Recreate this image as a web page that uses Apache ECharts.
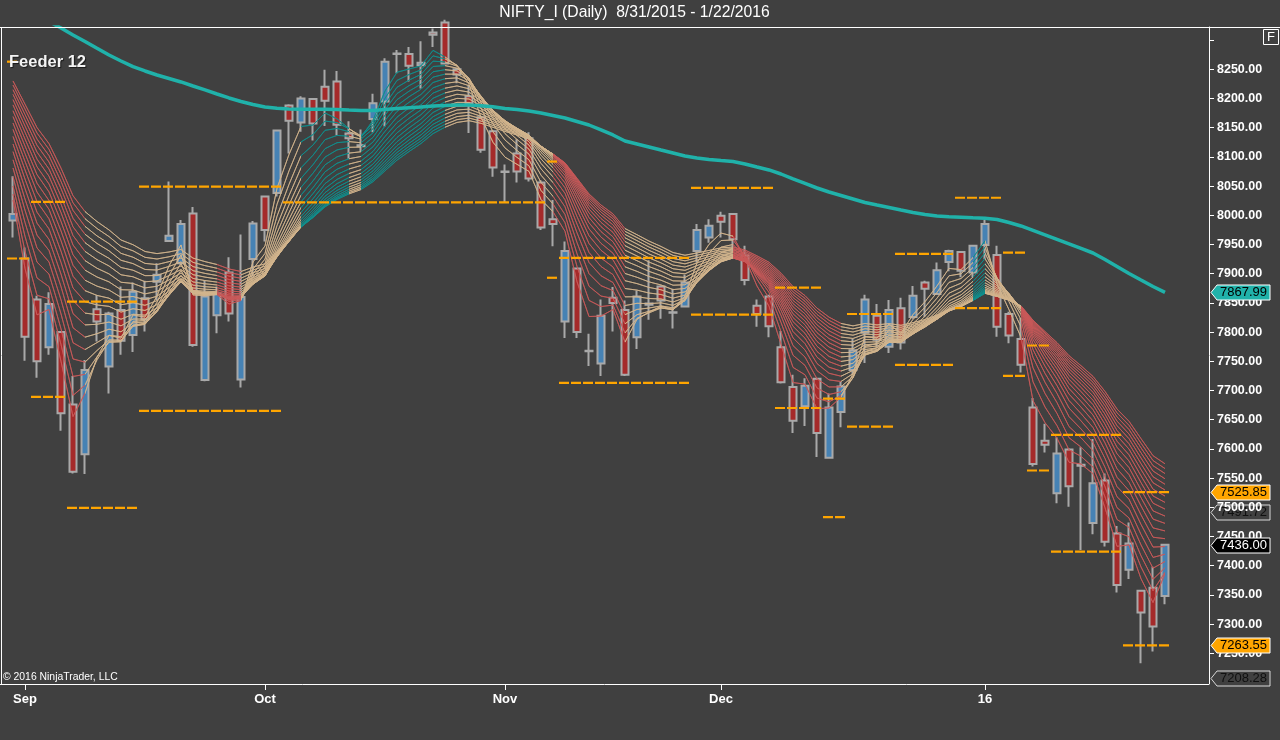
<!DOCTYPE html>
<html><head><meta charset="utf-8">
<script src="https://cdn.jsdelivr.net/npm/echarts@6.0.0/dist/echarts.min.js"></script>
<style>html,body{margin:0;padding:0;background:#404040;}#c{width:1280px;height:740px;}</style>
</head><body><div id="c"></div><script>
// ---- data ----
const dates = ['2015-08-31',
'2015-09-01','2015-09-02','2015-09-03','2015-09-04','2015-09-07','2015-09-08','2015-09-09','2015-09-10','2015-09-11','2015-09-14','2015-09-15','2015-09-16','2015-09-18','2015-09-21','2015-09-22','2015-09-23','2015-09-24','2015-09-28','2015-09-29','2015-09-30',
'2015-10-01','2015-10-05','2015-10-06','2015-10-07','2015-10-08','2015-10-09','2015-10-12','2015-10-13','2015-10-14','2015-10-15','2015-10-16','2015-10-19','2015-10-20','2015-10-21','2015-10-23','2015-10-26','2015-10-27','2015-10-28','2015-10-29','2015-10-30',
'2015-11-02','2015-11-03','2015-11-04','2015-11-05','2015-11-06','2015-11-09','2015-11-10','2015-11-13','2015-11-16','2015-11-17','2015-11-18','2015-11-19','2015-11-20','2015-11-23','2015-11-24','2015-11-26','2015-11-27','2015-11-30',
'2015-12-01','2015-12-02','2015-12-03','2015-12-04','2015-12-07','2015-12-08','2015-12-09','2015-12-10','2015-12-11','2015-12-14','2015-12-15','2015-12-16','2015-12-17','2015-12-18','2015-12-21','2015-12-22','2015-12-23','2015-12-24','2015-12-28','2015-12-29','2015-12-30','2015-12-31',
'2016-01-01','2016-01-04','2016-01-05','2016-01-06','2016-01-07','2016-01-08','2016-01-11','2016-01-12','2016-01-13','2016-01-14','2016-01-15','2016-01-18','2016-01-19','2016-01-20','2016-01-21','2016-01-22'];

const opens = [7991,7926,7856,7774,7800,7676,7591,7839,7741,7838,7795,7858,7886,7956,7918,8003,7718,7829,7902,7719,7925,
8032,8038,8188,8159,8199,8220,8229,8140,8120,8165,8195,8276,8276,8257,8313,8330,8250,8204,8168,8144,
8075,8106,8132,8056,7993,7818,7909,7768,7746,7859,7838,7791,7849,7878,7834,7844,7939,7962,
7999,8002,7931,7845,7861,7774,7706,7673,7720,7585,7663,7735,7799,7828,7775,7841,7826,7885,7865,7920,7937,7902,
7949,7932,7831,7788,7671,7614,7524,7599,7573,7473,7546,7455,7393,7357,7362,7348];
const highs = [8067,7945,7862,7868,7802,7725,7752,7863,7835,7878,7885,7888,7918,8058,7992,8014,7889,7878,7928,7967,7990,
8033,8146,8190,8204,8200,8249,8247,8161,8147,8208,8269,8283,8288,8298,8320,8335,8252,8223,8170,8146,
8087,8130,8142,8060,8026,7955,7910,7797,7856,7877,7854,7871,7923,7880,7874,7898,7985,7993,
8006,8004,7948,7856,7864,7802,7727,7721,7721,7695,7715,7788,7864,7848,7855,7859,7879,7888,7919,7941,7938,7949,
7992,7948,7835,7824,7687,7643,7620,7601,7603,7617,7558,7468,7474,7358,7398,7437];
const lows = [7962,7751,7722,7761,7631,7558,7557,7784,7695,7761,7766,7801,7855,7956,7915,7775,7716,7798,7818,7705,7895,
7955,8032,8106,8143,8128,8153,8137,8097,8109,8142,8152,8243,8229,8217,8288,8258,8226,8141,8107,8066,
8022,8056,8058,7975,7947,7790,7790,7742,7725,7801,7725,7771,7821,7823,7806,7842,7919,7953,
7962,7938,7880,7809,7791,7712,7627,7639,7586,7584,7637,7728,7747,7775,7764,7770,7823,7826,7865,7904,7894,7894,
7925,7792,7781,7731,7570,7594,7507,7501,7427,7454,7433,7354,7377,7233,7253,7334];
const closes = [8002,7792,7750,7848,7661,7561,7735,7818,7832,7785,7869,7822,7898,7965,7985,7778,7861,7866,7832,7860,7986,
7975,8145,8162,8200,8157,8196,8155,8132,8118,8192,8263,8277,8256,8261,8309,8260,8241,8192,8112,8082,
8074,8075,8063,7979,7985,7939,7800,7767,7828,7850,7727,7861,7847,7854,7833,7885,7975,7982,
7989,7959,7889,7831,7810,7714,7648,7708,7627,7671,7707,7769,7856,7787,7838,7782,7862,7874,7906,7939,7905,7948,
7985,7809,7794,7744,7574,7607,7592,7536,7571,7541,7441,7367,7438,7320,7296,7436];

// long teal moving average
const slowMA = [8365.2,8354.1,8343.0,8331.8,8320.7,8308.7,8297.6,8286.0,8274.5,8264.2,8254.5,8247.1,8240.2,8234.3,8228.3,8221.4,8214.6,8207.7,8200.9,8194.9,8189.7,
8185.4,8183.2,8182.0,8181.5,8181.5,8181.5,8181.2,8180.3,8179.5,8179.5,8181.2,8182.9,8184.2,8185.4,8187.2,8188.0,8188.9,8188.9,8187.5,8185.8,
8182.9,8181.2,8178.6,8175.2,8170.9,8166.6,8160.6,8154.6,8146.1,8137.5,8127.2,8122.1,8117.0,8111.8,8106.7,8101.5,8098.1,8095.6,
8093.8,8092.1,8087.9,8082.7,8077.6,8070.7,8062.2,8054.5,8046.7,8039.9,8033.9,8027.9,8021.9,8017.6,8013.4,8009.0,8004.8,8001.4,7998.8,7997.4,7996.6,7995.7,
7994.9,7992.8,7987.7,7981.7,7974.0,7966.3,7958.6,7950.9,7943.2,7935.4,7924.3,7912.4,7900.4,7889.2,7878.1,7867.99];

// Feeder ribbon: EMA periods (slowest first) and their starting values read at the first bar
const feederPeriods = [21,20,19,18,17,16,15,14,13,12,11,10,9,8,7,6,5,4,3];
const feederStart = [8230,8223,8215,8207,8198,8189,8179,8169,8158,8147,8135,8122,8109,8095,8081,8066,8050,8036,8026];
// ribbon colour state per bar run: r = bearish, t = neutral, g = bullish
const feederRuns = [[0,6,'r'],[7,17,'t'],[18,19,'r'],[20,24,'t'],[25,28,'g'],[29,29,'t'],[30,36,'g'],[37,45,'t'],[46,51,'r'],[52,60,'t'],[61,69,'r'],[70,80,'t'],[81,81,'g'],[82,84,'t'],[85,96,'r']];

// orange dashed levels: [first bar, last bar, price]
const levelStart = [0,0,2,2,5,5,11,11,23,45,45,46,46,57,57,64,64,68,68,70,70,74,74,79,79,83,83,85,85,87,87,93,93];
const levelEnd   = [0,1,4,4,10,10,22,22,44,45,45,56,56,63,63,67,67,69,69,73,73,78,78,82,82,84,84,86,86,92,92,96,96];
const levelPrice = [8263,7926,8023,7689,7852,7499,8049,7665,8022,8092,7893,7927,7713,8047,7830,7876,7670,7686,7483,7831,7638,7934,7744,8030,7841,7936,7725,7777,7563,7624,7424,7525.85,7263.55];

// x axis labels
const xTickIndex = [1,21,41,59,81];
const xTickText = ['Sep','Oct','Nov','Dec','16'];
// y axis ticks / labels
const yTickValues = [7250,7300,7350,7400,7450,7500,7550,7600,7650,7700,7750,7800,7850,7900,7950,8000,8050,8100,8150,8200,8250,8300];
const yLabelValues = [7250,7300,7350,7400,7450,7500,7550,7600,7650,7700,7750,7800,7850,7900,7950,8000,8050,8100,8150,8200,8250];
// price tags on the right axis
const tagValues = [7491.72,7867.99,7525.85,7436.00,7263.55,7208.28];

// ---- chart ----
const chart = echarts.init(document.getElementById('c'), null, {renderer:'canvas'});
const FONT = '"Liberation Sans", Arial, sans-serif';

function ema(period, start) {
  const k = 2 / (period + 1);
  const out = [start];
  for (let i = 1; i < closes.length; i++) out.push(out[i-1] + k * (closes[i] - out[i-1]));
  return out.map(v => +v.toFixed(2));
}

const candleData = opens.map((o, i) => [o, closes[i], lows[i], highs[i]]);
const stateColor = {r:'#C85858', t:'#D2B48C', g:'#0E8E8C'};

const series = [];
series.push({
  type:'candlestick', name:'NIFTY_I', xAxisIndex:0, yAxisIndex:0, z:2,
  barWidth:7, data:candleData,
  itemStyle:{color:'#4682B4', color0:'#A52A2A', borderColor:'#A9A9A9', borderColor0:'#A9A9A9', borderWidth:2}
});
const ribbonIdx = [];
feederPeriods.forEach((p, k) => {
  ribbonIdx.push(series.length);
  series.push({
    type:'line', name:'EMA'+p, xAxisIndex:0, yAxisIndex:0, z:3, symbol:'none', silent:true,
    data: ema(p, feederStart[k]),
    lineStyle:{width:1, opacity:0.8}
  });
});
series.push({
  type:'line', name:'MA', xAxisIndex:0, yAxisIndex:0, z:4, symbol:'none', smooth:false,
  data: slowMA, lineStyle:{color:'#20B2AA', width:3.5}
});
levelPrice.forEach((p, k) => {
  series.push({
    type:'line', xAxisIndex:1, yAxisIndex:0, z:5, symbol:'none', silent:true,
    data:[[levelStart[k]-0.5, p],[levelEnd[k]+0.5, p]],
    lineStyle:{color:'#FFA500', width:2.2, type:[10,2]}
  });
});

const option = {
  backgroundColor:'#404040',
  animation:false,
  grid:{left:7, right:109, top:27, bottom:56, containLabel:false},
  xAxis:[{
    type:'category', data:dates, boundaryGap:true,
    axisLine:{show:false, onZero:false},
    axisTick:{show:true, alignWithLabel:true, length:6, lineStyle:{color:'#ffffff', width:1},
      interval:(i)=>xTickIndex.includes(i)},
    axisLabel:{color:'#ffffff', fontWeight:'bold', fontSize:13, fontFamily:FONT, margin:9,
      interval:(i)=>xTickIndex.includes(i),
      formatter:(v,i)=>{const k=xTickIndex.indexOf(i); return k>=0?xTickText[k]:'';}},
    splitLine:{show:false}
  },{
    type:'value', min:-0.5, max:96.5, show:false,
    axisLine:{onZero:false}
  }],
  yAxis:[{
    type:'value', position:'right', offset:38, min:7197.4, max:8322.4, scale:true,
    axisLine:{show:true, onZero:false, lineStyle:{color:'#ffffff', width:1}},
    axisTick:{show:true, length:5, lineStyle:{color:'#ffffff'}, customValues:yTickValues},
    axisLabel:{color:'#ffffff', fontWeight:'bold', fontSize:12.5, fontFamily:FONT, margin:8,
      customValues:yLabelValues, formatter:(v)=>Number(v).toFixed(2)},
    splitLine:{show:false}
  }],
  visualMap:{
    type:'piecewise', show:false, dimension:0, seriesIndex:ribbonIdx,
    pieces: feederRuns.map(([a,b,s]) => ({gt:a-1, lte:b, color:stateColor[s]}))
  },
  series
};
chart.setOption(option);

// frame, texts and right axis tags
const tagStyle = [
  {bg:'#404040', fg:'#101010', st:'#d8d8d8', z:-1},
  {bg:'#20B2AA', fg:'#000000', st:'#ffffff', z:50},
  {bg:'#FFA500', fg:'#000000', st:'#ffffff', z:50},
  {bg:'#000000', fg:'#ffffff', st:'#ffffff', z:51},
  {bg:'#FFA500', fg:'#000000', st:'#ffffff', z:50},
  {bg:'#404040', fg:'#101010', st:'#d8d8d8', z:50}
];
const graphics = [
  {type:'line', shape:{x1:0,y1:27.5,x2:1280,y2:27.5}, style:{stroke:'#ffffff', lineWidth:1}, z:20},
  {type:'line', shape:{x1:0,y1:684.5,x2:1209,y2:684.5}, style:{stroke:'#ffffff', lineWidth:1}, z:20},
  {type:'line', shape:{x1:1.5,y1:27,x2:1.5,y2:684}, style:{stroke:'#ffffff', lineWidth:1}, z:20},
  {type:'text', x:634.5, y:13, style:{text:'NIFTY_I (Daily)  8/31/2015 - 1/22/2016', fill:'#ffffff', font:'15.7px '+FONT, textAlign:'center', textVerticalAlign:'middle'}, z:20},
  {type:'text', x:9, y:62, style:{text:'Feeder 12', fill:'#f4f4f4', font:'bold 16.5px '+FONT, textAlign:'left', textVerticalAlign:'middle', textShadowColor:'rgba(0,0,0,0.6)', textShadowBlur:1, textShadowOffsetX:1, textShadowOffsetY:1}, z:20},
  {type:'text', x:3, y:677, style:{text:'\u00A9 2016 NinjaTrader, LLC', fill:'#ffffff', font:'10.4px '+FONT, textAlign:'left', textVerticalAlign:'middle'}, z:20},
  {type:'rect', shape:{x:1263.5,y:29.5,width:15,height:15}, style:{fill:'none', stroke:'#ffffff', lineWidth:1}, z:20},
  {type:'text', x:1271, y:37, style:{text:'F', fill:'#ffffff', font:'13px '+FONT, textAlign:'center', textVerticalAlign:'middle'}, z:21}
];
tagValues.forEach((v, k) => {
  const y = Math.round(chart.convertToPixel({yAxisIndex:0}, v)) + 0.5;
  const s = tagStyle[k];
  graphics.push({type:'polygon', z:s.z, shape:{points:[[1211,y],[1217,y-7.5],[1270,y-7.5],[1270,y+7.5],[1217,y+7.5]]}, style:{fill:s.bg, stroke:s.st, lineWidth:1}});
  graphics.push({type:'text', z:s.z+1, x:1243.5, y:y, style:{text:v.toFixed(2), fill:s.fg, font:'13px '+FONT, textAlign:'center', textVerticalAlign:'middle'}});
});
chart.setOption({graphic:graphics});
</script></body></html>
